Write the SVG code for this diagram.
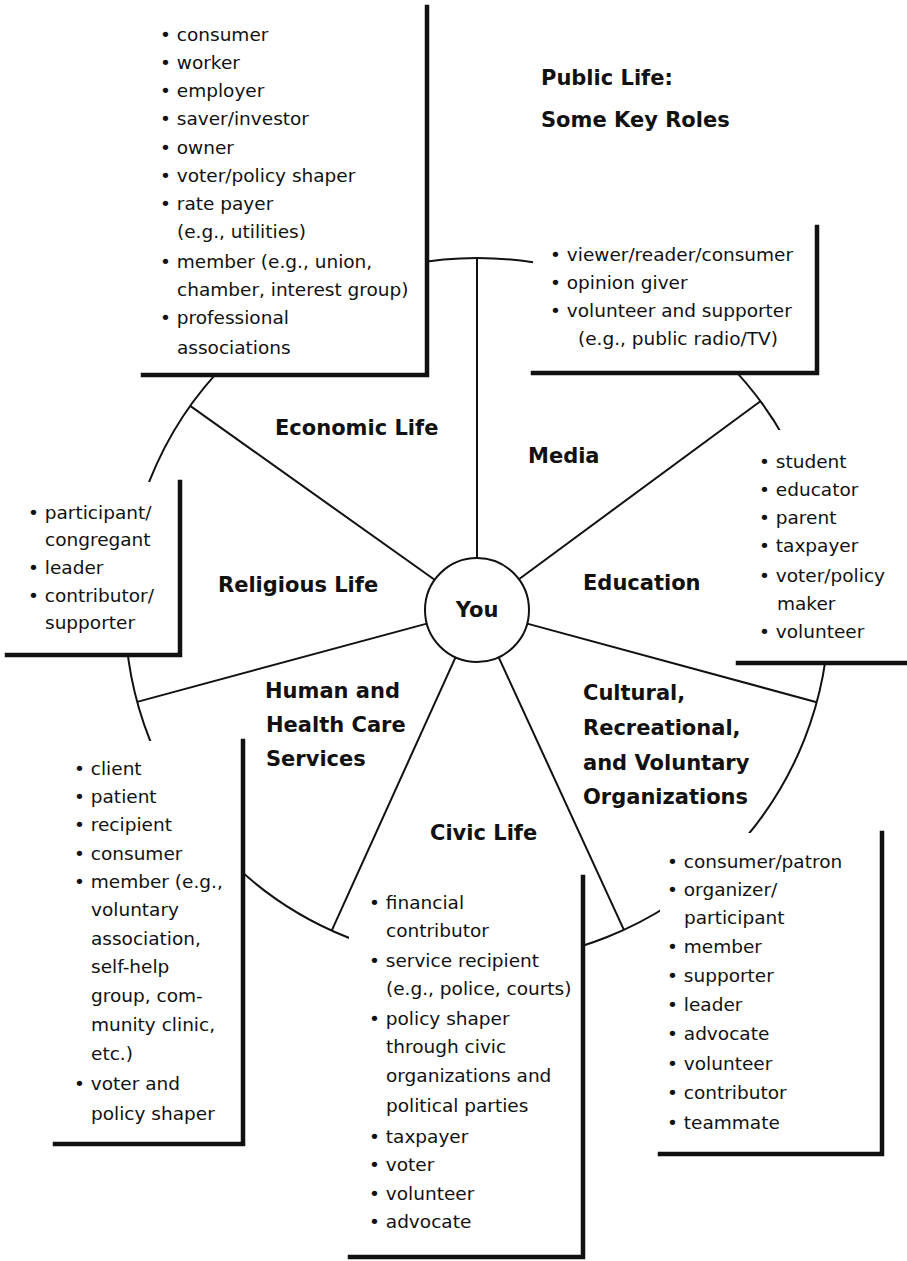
<svg xmlns="http://www.w3.org/2000/svg" width="907" height="1261" viewBox="0 0 907 1261">
<style>
.bg{fill:#fff}
.fill{fill:#fff}
.edge{fill:none;stroke:#111;stroke-width:4.5;stroke-linecap:square}
.line{fill:none;stroke:#111;stroke-width:2}
.item{font-family:"DejaVu Sans",sans-serif;font-size:18.5px;fill:#111}
.label{font-family:"DejaVu Sans",sans-serif;font-weight:bold;font-size:21px;fill:#111}
</style>
<rect class="bg" x="0" y="0" width="907" height="1261"/>
<g id="ring">
<circle class="line" cx="477" cy="610" r="352"/>
</g>
<g id="connectors">
<line class="line" x1="477" y1="558" x2="477" y2="258"/>
<line class="line" x1="434.6" y1="579.8" x2="190.2" y2="405.9"/>
<line class="line" x1="518.9" y1="579.2" x2="760.4" y2="401.2"/>
<line class="line" x1="426.8" y1="623.6" x2="137.2" y2="701.9"/>
<line class="line" x1="527.2" y1="623.6" x2="816.7" y2="702.2"/>
<line class="line" x1="455.5" y1="657.4" x2="331.7" y2="930.6"/>
<line class="line" x1="498.7" y1="657.3" x2="623.9" y2="929.9"/>
</g>
<g id="you">
<circle cx="477" cy="610" r="52" fill="#fff" stroke="#111" stroke-width="2"/>
<text class="label" x="477" y="617" text-anchor="middle">You</text>
</g>
<g id="title">
<text class="label" x="541" y="85">Public Life:</text>
<text class="label" x="541" y="127">Some Key Roles</text>
</g>
<g id="economic">
<rect class="fill" x="143" y="7" width="284" height="368"/>
<path class="edge" d="M143,375 H427 V7"/>
<text class="item" x="160" y="41">• consumer</text>
<text class="item" x="160" y="69">• worker</text>
<text class="item" x="160" y="97">• employer</text>
<text class="item" x="160" y="125">• saver/investor</text>
<text class="item" x="160" y="154">• owner</text>
<text class="item" x="160" y="182">• voter/policy shaper</text>
<text class="item" x="160" y="210">• rate payer</text>
<text class="item" x="177" y="238">(e.g., utilities)</text>
<text class="item" x="160" y="268">• member (e.g., union,</text>
<text class="item" x="177" y="296">chamber, interest group)</text>
<text class="item" x="160" y="324">• professional</text>
<text class="item" x="177" y="354">associations</text>
<text class="label" x="275" y="435">Economic Life</text>
</g>
<g id="media">
<rect class="fill" x="533" y="227" width="284" height="146"/>
<path class="edge" d="M533,373 H817 V227"/>
<text class="item" x="550" y="261">• viewer/reader/consumer</text>
<text class="item" x="550" y="289">• opinion giver</text>
<text class="item" x="550" y="317">• volunteer and supporter</text>
<text class="item" x="578" y="345">(e.g., public radio/TV)</text>
<text class="label" x="528" y="463">Media</text>
</g>
<g id="education">
<rect class="fill" x="738" y="430" width="169" height="233"/>
<path class="edge" d="M738,663 H907"/>
<text class="item" x="759" y="468">• student</text>
<text class="item" x="759" y="496">• educator</text>
<text class="item" x="759" y="524">• parent</text>
<text class="item" x="759" y="552">• taxpayer</text>
<text class="item" x="759" y="582">• voter/policy</text>
<text class="item" x="777" y="610">maker</text>
<text class="item" x="759" y="638">• volunteer</text>
<text class="label" x="583" y="590">Education</text>
</g>
<g id="religious">
<rect class="fill" x="7" y="482" width="173" height="173"/>
<path class="edge" d="M7,655 H180 V482"/>
<text class="item" x="28" y="519">• participant/</text>
<text class="item" x="45" y="546">congregant</text>
<text class="item" x="28" y="574">• leader</text>
<text class="item" x="28" y="602">• contributor/</text>
<text class="item" x="45" y="629">supporter</text>
<text class="label" x="218" y="592">Religious Life</text>
</g>
<g id="human">
<rect class="fill" x="55" y="741" width="188" height="403"/>
<path class="edge" d="M55,1144 H243 V741"/>
<text class="item" x="74" y="775">• client</text>
<text class="item" x="74" y="803">• patient</text>
<text class="item" x="74" y="831">• recipient</text>
<text class="item" x="74" y="860">• consumer</text>
<text class="item" x="74" y="888">• member (e.g.,</text>
<text class="item" x="91" y="916">voluntary</text>
<text class="item" x="91" y="945">association,</text>
<text class="item" x="91" y="973">self-help</text>
<text class="item" x="91" y="1002">group, com-</text>
<text class="item" x="91" y="1031">munity clinic,</text>
<text class="item" x="91" y="1060">etc.)</text>
<text class="item" x="74" y="1090">• voter and</text>
<text class="item" x="91" y="1120">policy shaper</text>
<text class="label" x="265" y="698">Human and</text>
<text class="label" x="266" y="732">Health Care</text>
<text class="label" x="266" y="766">Services</text>
</g>
<g id="civic">
<rect class="fill" x="349" y="932" width="234" height="325"/>
<path class="edge" d="M350,1257 H583 V877"/>
<text class="item" x="369" y="909">• financial</text>
<text class="item" x="386" y="937">contributor</text>
<text class="item" x="369" y="967">• service recipient</text>
<text class="item" x="386" y="995">(e.g., police, courts)</text>
<text class="item" x="369" y="1025">• policy shaper</text>
<text class="item" x="386" y="1053">through civic</text>
<text class="item" x="386" y="1082">organizations and</text>
<text class="item" x="386" y="1112">political parties</text>
<text class="item" x="369" y="1143">• taxpayer</text>
<text class="item" x="369" y="1171">• voter</text>
<text class="item" x="369" y="1200">• volunteer</text>
<text class="item" x="369" y="1228">• advocate</text>
<text class="label" x="430" y="840">Civic Life</text>
</g>
<g id="cultural">
<rect class="fill" x="660" y="833" width="222" height="321"/>
<path class="edge" d="M660,1154 H882 V833"/>
<text class="item" x="667" y="868">• consumer/patron</text>
<text class="item" x="667" y="896">• organizer/</text>
<text class="item" x="684" y="924">participant</text>
<text class="item" x="667" y="953">• member</text>
<text class="item" x="667" y="982">• supporter</text>
<text class="item" x="667" y="1011">• leader</text>
<text class="item" x="667" y="1040">• advocate</text>
<text class="item" x="667" y="1070">• volunteer</text>
<text class="item" x="667" y="1099">• contributor</text>
<text class="item" x="667" y="1129">• teammate</text>
<text class="label" x="583" y="700">Cultural,</text>
<text class="label" x="583" y="735">Recreational,</text>
<text class="label" x="583" y="770">and Voluntary</text>
<text class="label" x="583" y="804">Organizations</text>
</g>
</svg>
